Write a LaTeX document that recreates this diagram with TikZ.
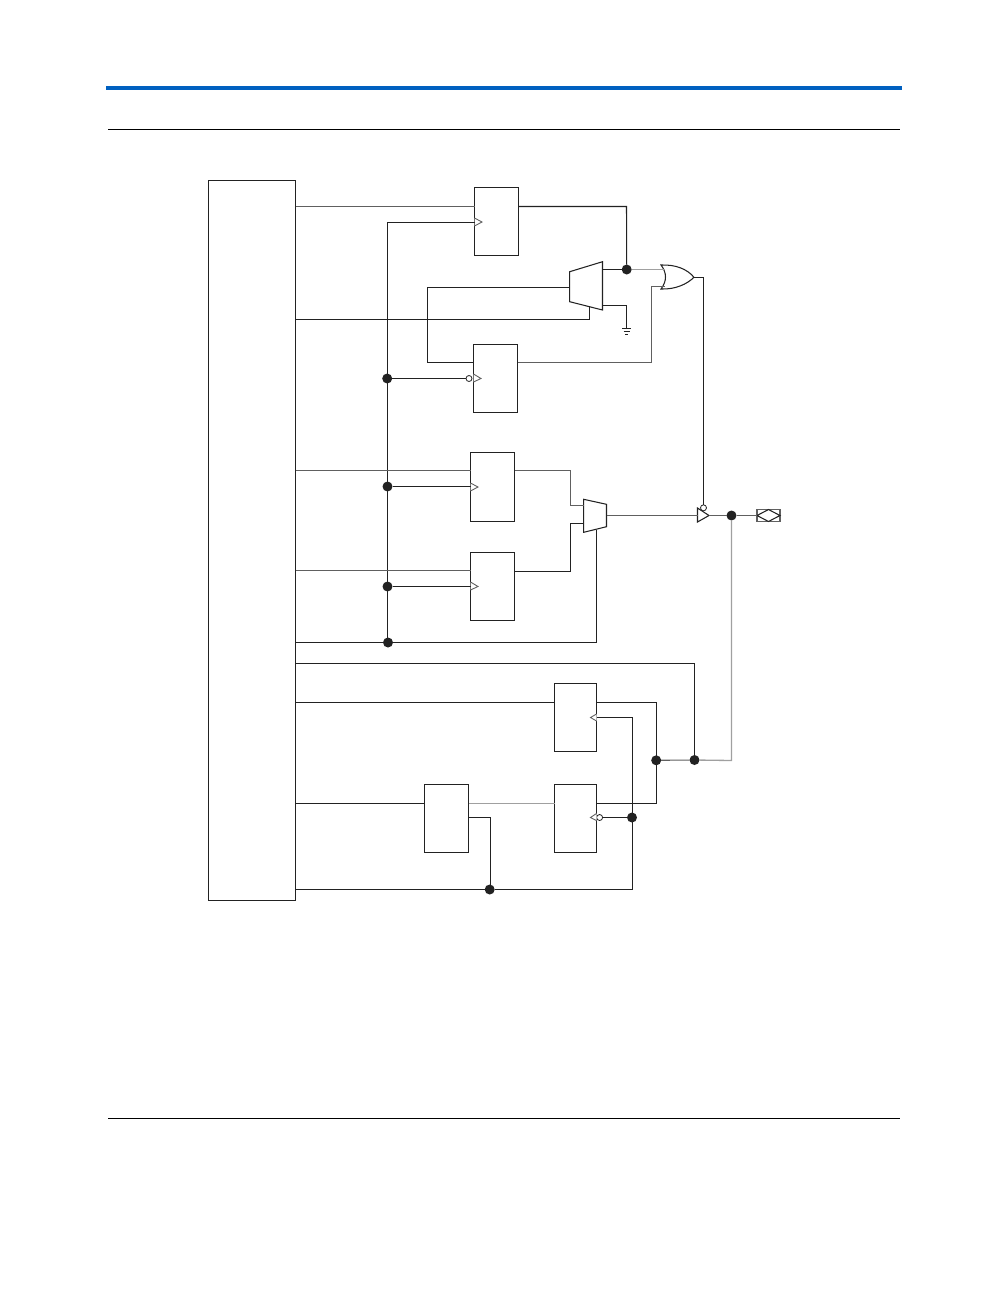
\documentclass[tikz,border=0pt]{standalone}
\usepackage{tikz}
\usetikzlibrary{calc}
\definecolor{wire}{HTML}{222222}
\definecolor{midw}{HTML}{606060}
\definecolor{lightw}{HTML}{A0A0A0}
\definecolor{barblue}{HTML}{0060C0}
\tikzset{
  wirel/.style={draw=wire,line width=0.6pt},
  wiremid/.style={draw=midw,line width=0.62pt},
  wirelight/.style={draw=lightw,line width=0.75pt},
  block/.style={draw=wire,line width=0.6pt,fill=white,rectangle,inner sep=0pt,outer sep=0pt},
  dotj/.style={circle,fill=wire,inner sep=0pt,outer sep=0pt,minimum size=0.2cm},
  bub/.style={circle,draw=wire,fill=white,line width=0.45pt,inner sep=0pt,outer sep=0pt,minimum size=0.12cm},
  clk/.style={draw=midw,line width=0.5pt,fill=white},
}
\newcommand{\ffnode}[5]{% name, x1, x2, y1, y2
  \pgfmathsetmacro{\fw}{(#3-#2)*0.02}\pgfmathsetmacro{\fh}{(#5-#4)*0.02}
  \node[block,minimum width=\fw cm,minimum height=\fh cm] (#1) at ({(#2+#3)/2},{(#4+#5)/2}) {};
}
\begin{document}
\begin{tikzpicture}[x=0.02cm,y=-0.02cm]
\useasboundingbox (0,0) rectangle (1008,1296);
% page furniture
\fill[barblue] (106,86) rectangle (902,90.3);
\draw[black,line width=0.7pt] (108,129.5) -- (900,129.5);
\draw[black,line width=0.7pt] (108,1118.5) -- (900,1118.5);
% blocks
\ffnode{bus}{208.5}{295.5}{180.5}{900.5}
\ffnode{ffa}{474.5}{518.5}{187.5}{255.5}
\ffnode{ffb}{473.5}{517.5}{344.5}{412.5}
\ffnode{ffc}{470.5}{514.5}{452.5}{521.5}
\ffnode{ffd}{470.5}{514.5}{552.5}{620.5}
\ffnode{ffe}{554.5}{596.5}{683.5}{751.5}
\ffnode{fff}{554.5}{596.5}{784.5}{852.5}
\ffnode{ffg}{424.5}{468.5}{784.5}{852.5}
% muxes
\draw[wirel,fill=white] (569.7,271.7) -- (602.5,261.7) -- (602.5,310) -- (569.7,301.7) -- cycle;
\draw[wirel,fill=white] (583.7,499.3) -- (606.5,504.3) -- (606.5,526.7) -- (583.7,532.3) -- cycle;
\coordinate (muxaout) at (602.5,269.5);
\coordinate (muxain) at (569.7,287.5);
\coordinate (muxagnd) at (602.5,305.5);
\coordinate (muxasel) at (589.5,306.6);
\coordinate (muxbout) at (606.5,515.5);
\coordinate (muxbina) at (583.7,505.5);
\coordinate (muxbinb) at (583.7,523.5);
\coordinate (muxbsel) at (596.5,529.5);
% or gate
\draw[wirel,fill=white] (661,265) .. controls (676,264.5) and (687,269) .. (694,277.3)
  .. controls (687,284) and (676,289.5) .. (661,289)
  .. controls (667,281) and (667,273) .. (661,265) -- cycle;
\coordinate (oraa) at (664.5,269.5);
\coordinate (orab) at (664.5,286.5);
\coordinate (orout) at (694,277.5);
% output buffer
\draw[wirel,fill=white] (697.5,508) -- (709,515.5) -- (697.5,522) -- cycle;
\coordinate (bufin) at (697.5,515.5);
\coordinate (bufout) at (709,515.5);
\node[bub] (bufoe) at (703.5,507.8) {};
% pad
\node[draw=midw,line width=0.6pt,fill=white,inner sep=0pt,outer sep=0pt,minimum width=0.46cm,minimum height=0.24cm] (pad) at (768.5,515.5) {};
\draw[wirel] (pad.west) -- (pad.north) -- (pad.east) -- (pad.south) -- cycle;
% junctions
\node[dotj] (ja) at (626.7,269.5) {};
\node[dotj] (jb) at (387.2,378.5) {};
\node[dotj] (jc) at (387.5,486.5) {};
\node[dotj] (jd) at (387.5,586.5) {};
\node[dotj] (je) at (388,642.5) {};
\node[dotj] (jf) at (731.5,515.5) {};
\node[dotj] (jg) at (694.5,760) {};
\node[dotj] (jh) at (656.2,760.3) {};
\node[dotj] (ji) at (632,817.5) {};
\node[dotj] (jj) at (489.7,889.5) {};
% bubbles on clocks
\node[bub] (ckb) at (469,378.5) {};
\node[bub] (ckf) at (599.6,817.5) {};
% ground
\coordinate (gnd) at (626.5,328.5);
\draw[wirel] ($(gnd)+(-4.5,0)$) -- ($(gnd)+(4.5,0)$);
\draw[wirel] ($(gnd)+(-3,3)$) -- ($(gnd)+(3,3)$);
\draw[wirel] ($(gnd)+(-1.5,6)$) -- ($(gnd)+(1.5,6)$);
% clock triangles
\draw[clk] (ffa.west |- 0,218) -- (482,222) -- (ffa.west |- 0,226);
\draw[clk] (ffb.west |- 0,374) -- (481,378.5) -- (ffb.west |- 0,382);
\draw[clk] (ffc.west |- 0,483) -- (478,487) -- (ffc.west |- 0,491);
\draw[clk] (ffd.west |- 0,582) -- (478,586.5) -- (ffd.west |- 0,590);
\draw[clk] (ffe.east |- 0,714) -- (590.5,717.5) -- (ffe.east |- 0,721);
\draw[clk] (fff.east |- 0,813.5) -- (590.5,817.5) -- (fff.east |- 0,820.5);
% clock tree
\draw[wirel] (ffa.west |- 0,222.5) -- (387.5,222.5) -- (387.5,642.5) -- (je.center);
\draw[wirel] (jb) -- (ckb);
\draw[wirel] (jc) -- (ffc.west |- jc);
\draw[wirel] (jd) -- (ffd.west |- jd);
\draw[wirel] (bus.east |- je) -- (je) -- (596.5,642.5) -- (muxbsel);
% inputs from the bus
\draw[wiremid] (bus.east |- 0,206.5) -- (ffa.west |- 0,206.5);
\draw[wirel] (bus.east |- 0,319.5) -- (589.5,319.5) -- (muxasel);
\draw[wiremid] (bus.east |- 0,470.5) -- (ffc.west |- 0,470.5);
\draw[wiremid] (bus.east |- 0,570.5) -- (ffd.west |- 0,570.5);
\draw[wirel] (bus.east |- 0,663.5) -- (694.5,663.5) -- (jg);
\draw[wirel] (bus.east |- 0,702.5) -- (ffe.west |- 0,702.5);
\draw[wirel] (bus.east |- 0,803.5) -- (ffg.west |- 0,803.5);
\draw[wirel] (bus.east |- jj) -- (jj);
\draw[wirel] (jj) -- (632.5,889.5) -- (632.5,717.5) -- (ffe.east |- 0,717.5);
% upper output path
\draw[wirel] (ffa.east |- 0,206.5) -- (626.5,206.5) -- (ja);
\draw[wirel] (muxaout) -- (ja);
\draw[wirelight] (ja) -- (oraa);
\draw[wirel] (muxain) -- (427.5,287.5) -- (427.5,362.5) -- (ffb.west |- 0,362.5);
\draw[wirel] (muxagnd) -- (626.5,305.5) -- (gnd);
\draw[wiremid] (ffb.east |- 0,362.5) -- (651.5,362.5) -- (651.5,286.5) -- (orab);
\draw[wirel] (orout) -- (703.5,277.5) -- (bufoe);
% lower mux path
\draw[wiremid] (ffc.east |- 0,470.5) -- (570.5,470.5) -- (570.5,505.5) -- (muxbina);
\draw[wirel] (ffd.east |- 0,571.5) -- (570.5,571.5) -- (570.5,523.5) -- (muxbinb);
\draw[wiremid] (muxbout) -- (bufin);
\draw[wiremid] (bufout) -- (jf);
\draw[wiremid] (jf) -- (pad);
\draw[wirelight] (jf) -- (731.5,760.5) -- (jg);
\draw[wiremid] (jg) -- (jh);
% input registers
\draw[wirel] (ffe.east |- 0,702.5) -- (656.5,702.5) -- (656.5,803.5) -- (fff.east |- 0,803.5);
\draw[wirelight] (ffg.east |- 0,803.5) -- (fff.west |- 0,803.5);
\draw[wirel] (ffg.east |- 0,817.5) -- (490.5,817.5) -- (490.5,889.5);
\draw[wirel] (ckf) -- (ji);
\end{tikzpicture}
\end{document}
